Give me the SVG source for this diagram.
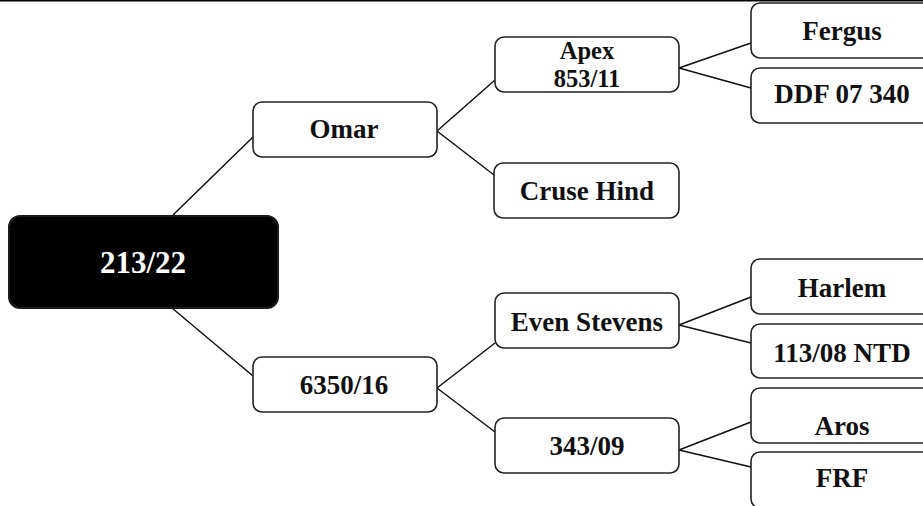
<svg xmlns="http://www.w3.org/2000/svg" width="923" height="506" viewBox="0 0 923 506">
<style>
.box{fill:#fff;stroke:#222;stroke-width:1.6}
.root{fill:#000;stroke:#1c1a18;stroke-width:2}
.t{font-family:"Liberation Serif","Times New Roman",serif;font-weight:bold;font-size:27px;fill:#111;text-anchor:middle}
.t2{font-size:24.5px}
.rt{font-family:"Liberation Serif","Times New Roman",serif;font-weight:bold;font-size:31px;fill:#fff;text-anchor:middle}
.c{stroke:#111;stroke-width:1.5;fill:none}
</style>
<rect width="923" height="506" fill="#fff"/>
<line x1="0" y1="0.8" x2="923" y2="0.8" stroke="#000" stroke-width="1.6"/>
<g id="connectors">
<line class="c" x1="173" y1="215" x2="253" y2="137"/>
<line class="c" x1="172" y1="308" x2="253" y2="376"/>
<line class="c" x1="437" y1="131" x2="495" y2="80"/>
<line class="c" x1="437" y1="131" x2="494" y2="175"/>
<line class="c" x1="679" y1="68" x2="751" y2="43"/>
<line class="c" x1="679" y1="68" x2="751" y2="88"/>
<line class="c" x1="437" y1="388" x2="495" y2="343"/>
<line class="c" x1="437" y1="388" x2="495" y2="432"/>
<line class="c" x1="679" y1="325" x2="751" y2="297"/>
<line class="c" x1="679" y1="325" x2="751" y2="343"/>
<line class="c" x1="679" y1="450" x2="751" y2="422"/>
<line class="c" x1="679" y1="450" x2="751" y2="467"/>
</g>
<g id="root"><rect class="root" x="9" y="216" width="269" height="92" rx="11"/><text class="rt" x="143" y="273">213/22</text></g>
<g id="omar"><rect class="box" x="253" y="102" width="184" height="55" rx="9"/><text class="t" x="344" y="138">Omar</text></g>
<g id="n6350"><rect class="box" x="253" y="357" width="184" height="55" rx="9"/><text class="t" x="344" y="394">6350/16</text></g>
<g id="apex"><rect class="box" x="495" y="37" width="184" height="55" rx="9"/><text class="t t2" x="587" y="59">Apex</text><text class="t t2" x="587" y="87">853/11</text></g>
<g id="cruse"><rect class="box" x="494" y="163" width="185" height="55" rx="9"/><text class="t" x="587" y="200">Cruse Hind</text></g>
<g id="even"><rect class="box" x="495" y="293" width="184" height="55" rx="9"/><text class="t" x="587" y="331">Even Stevens</text></g>
<g id="n343"><rect class="box" x="495" y="418" width="184" height="55" rx="9"/><text class="t" x="587" y="455">343/09</text></g>
<g id="fergus"><rect class="box" x="751" y="3" width="182" height="55" rx="9"/><text class="t" x="842" y="40">Fergus</text></g>
<g id="ddf"><rect class="box" x="751" y="68" width="182" height="55" rx="9"/><text class="t" x="842" y="103">DDF 07 340</text></g>
<g id="harlem"><rect class="box" x="751" y="259" width="182" height="55" rx="9"/><text class="t" x="842" y="297">Harlem</text></g>
<g id="ntd"><rect class="box" x="751" y="324" width="182" height="54" rx="9"/><text class="t" x="842" y="362">113/08 NTD</text></g>
<g id="aros"><rect class="box" x="751" y="388" width="182" height="55" rx="9"/><text class="t" x="842" y="435">Aros</text></g>
<g id="frf"><rect class="box" x="751" y="452" width="182" height="56" rx="9"/><text class="t" x="842" y="487">FRF</text></g>
</svg>
